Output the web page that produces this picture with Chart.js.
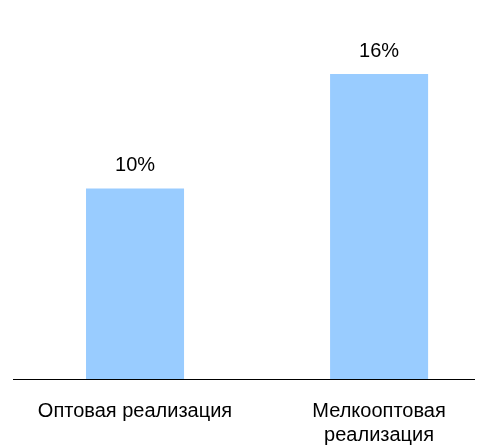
<!DOCTYPE html>
<html>
<head>
<meta charset="utf-8">
<script src="https://cdn.jsdelivr.net/npm/chart.js@4"></script>
<style>
  html, body { margin: 0; padding: 0; background: #fff; overflow: hidden; }
  #wrap { width: 493px; height: 447px; }
</style>
</head>
<body>
<div id="wrap"><canvas id="grafico"></canvas></div>
<script>
// dados do gráfico
const categorias = [['Оптовая реализация'], ['Мелкооптовая', 'реализация']]
const valores = [10, 16]
const rotulos = ['10%', '16%']

const fonte = "'Liberation Sans', Arial, sans-serif"

// rótulos acima das barras
const rotulosPlugin = {
    id: 'rotulos',
    afterDatasetsDraw(chart) {
        const ctx = chart.ctx
        const meta = chart.getDatasetMeta(0)
        ctx.save()
        ctx.font = '20px ' + fonte
        ctx.fillStyle = '#000'
        ctx.textAlign = 'center'
        ctx.textBaseline = 'middle'
        meta.data.forEach((bar, i) => {
            ctx.fillText(rotulos[i], bar.x, bar.y - 23)
        })
        ctx.restore()
    }
}

// linha do eixo x
const eixoPlugin = {
    id: 'eixo',
    afterDraw(chart) {
        const ctx = chart.ctx
        const y = chart.chartArea.bottom
        ctx.save()
        ctx.strokeStyle = '#000'
        ctx.lineWidth = 1
        ctx.beginPath()
        ctx.moveTo(13, y + 0.5)
        ctx.lineTo(475, y + 0.5)
        ctx.stroke()
        ctx.restore()
    }
}

new Chart(document.getElementById('grafico'), {
    type: 'bar',
    data: {
        datasets: [{
            data: valores.map((v, i) => ({ x: i, y: v })),
            backgroundColor: '#99ccff',
            borderWidth: 0,
            barPercentage: 98 / 244,
            categoryPercentage: 1
        }]
    },
    options: {
        responsive: true,
        maintainAspectRatio: false,
        animation: false,
        layout: { padding: { top: 36, left: 13, right: 18, bottom: 0 } },
        plugins: { legend: { display: false }, tooltip: { enabled: false } },
        scales: {
            x: {
                type: 'linear',
                min: -0.5,
                max: 1.393,
                offset: false,
                grid: { display: false, drawTicks: false, offset: false },
                border: { display: false },
                afterBuildTicks: axis => { axis.ticks = [{ value: 0 }, { value: 1 }] },
                afterFit: axis => { axis.height = 68 },
                ticks: {
                    autoSkip: false,
                    maxRotation: 0,
                    padding: 20,
                    color: '#000',
                    font: { family: fonte, size: 20 },
                    callback: v => categorias[v]
                }
            },
            y: {
                display: false,
                min: 0,
                max: 18
            }
        }
    },
    plugins: [rotulosPlugin, eixoPlugin]
})
</script>
</body>
</html>
